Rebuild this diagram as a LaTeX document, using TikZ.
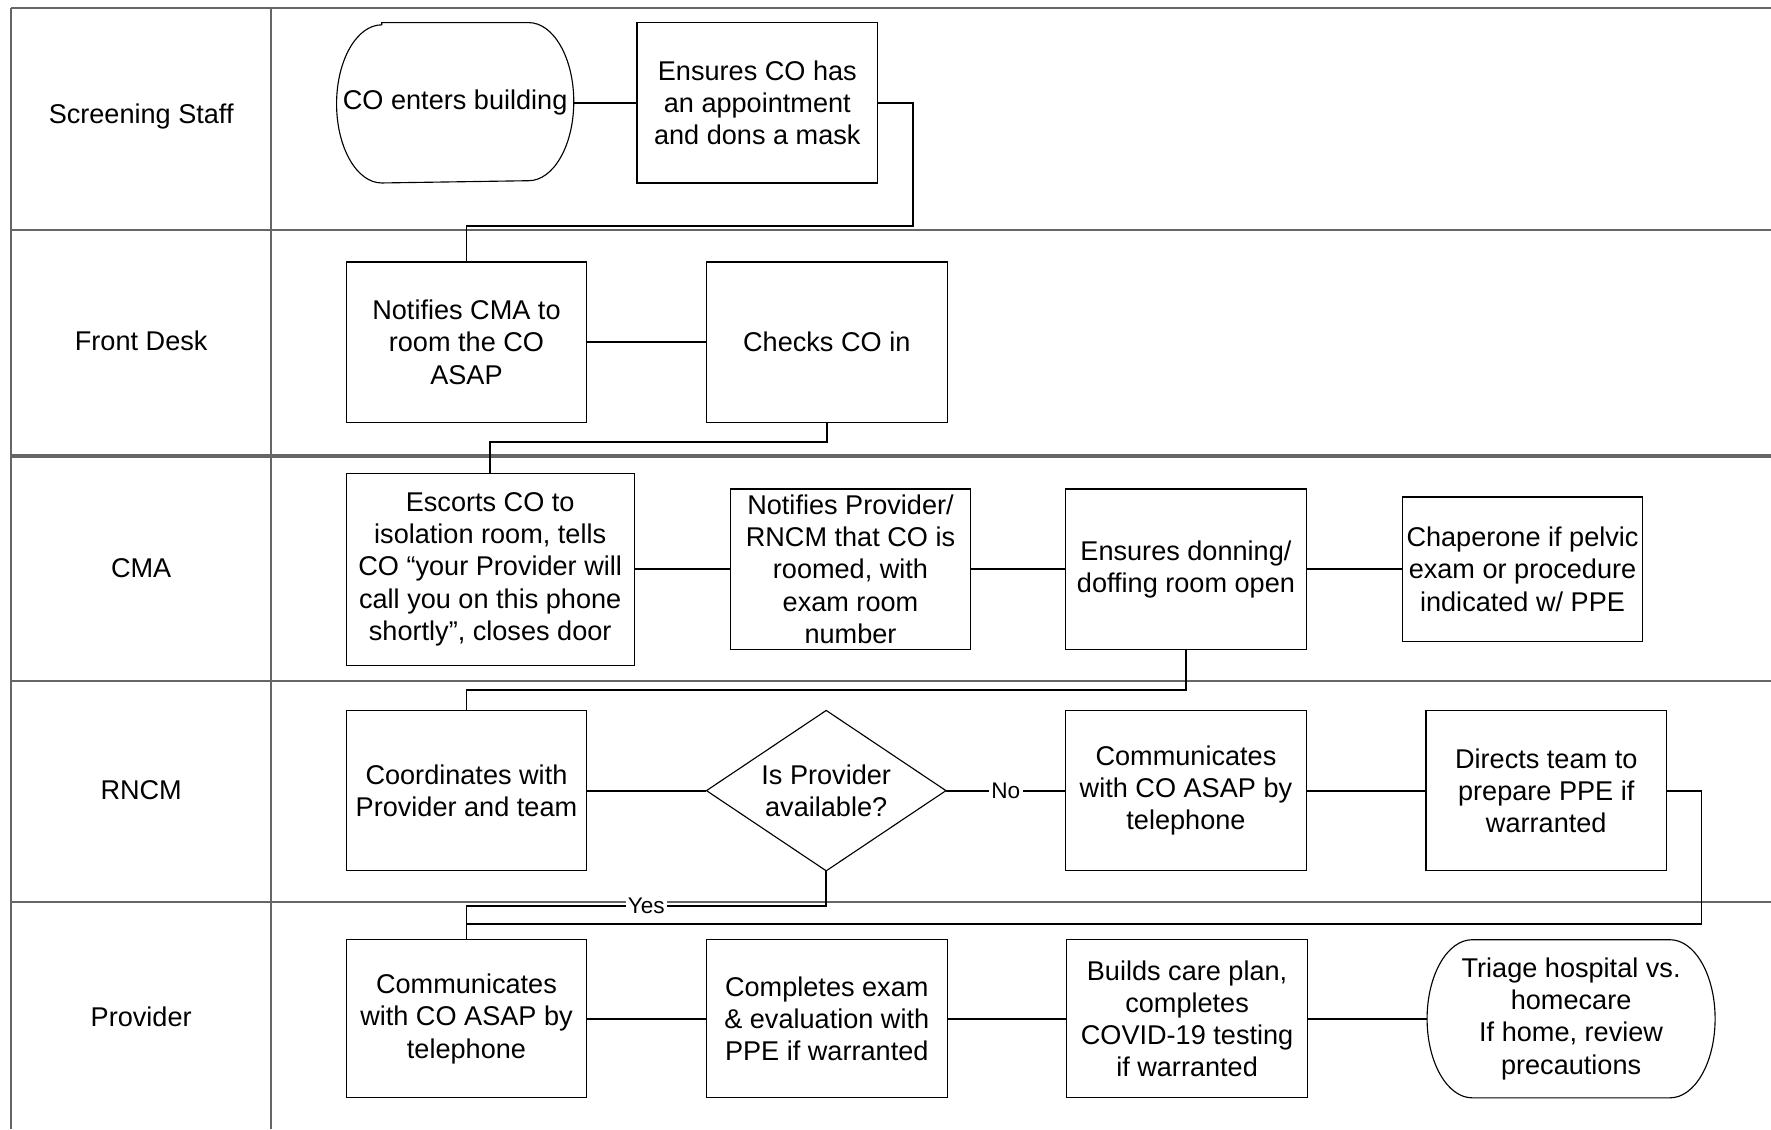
\documentclass[tikz,border=0pt]{standalone}
\usepackage{fontspec}
\setmainfont{Liberation Sans}
\usetikzlibrary{positioning,shapes.geometric}

\tikzset{
    task/.style={draw,align=center,minimum width=106.5pt,minimum height=71pt,inner sep=1pt,outer sep=0pt,line width=0.5pt},
    terminal/.style={align=center,minimum width=105pt,minimum height=71pt,inner sep=1pt,outer sep=0pt},
    decision/.style={draw,diamond,aspect=1.5,align=center,minimum width=106pt,minimum height=71pt,inner sep=0pt,outer sep=0pt,line width=0.5pt},
    lanelabel/.style={align=center},
    link/.style={line width=0.8pt},
    laneline/.style={draw=black!60,line width=0.9pt},
    tag/.style={fill=white,inner sep=1pt,font=\fontsize{10}{12}\selectfont}
}

\begin{document}
\begin{tikzpicture}[x=0.5pt,y=-0.5pt,font=\fontsize{12}{14.3}\selectfont]
    \useasboundingbox (0,0) rectangle (1568,1000);

    % swimlanes
    \foreach \ypos in {7,204,402.5,405,603,799}
        \draw[laneline] (10,\ypos) -- (1568,\ypos);
    \draw[laneline] (10,7) -- (10,1000);
    \draw[laneline] (240,7) -- (240,1000);
    \foreach \lbl/\ypos [count=\i] in {Screening Staff/103,Front Desk/302,CMA/503,RNCM/700,Provider/900}
        \node[lanelabel] (lane\i) at (125,\ypos) {\lbl};

    % screening staff
    \node[terminal] (start) at (403,91) {CO enters building};
    \node[task,right=28pt of start] (ensure) {Ensures CO has\\an appointment\\and dons a mask};

    % front desk
    \node[task] (roomco) at (413,303) {Notifies CMA to\\room the CO\\ASAP};
    \node[task,right=53pt of roomco] (checkin) {Checks CO in};

    % CMA
    \node[task,minimum width=127.5pt,minimum height=85pt] (escort) at (434,504) {Escorts CO to\\isolation room, tells\\CO “your Provider will\\call you on this phone\\shortly”, closes door};
    \node[task,right=42.5pt of escort] (notify) {Notifies Provider/\\RNCM that CO is\\roomed, with\\exam room\\number};
    \node[task,right=42pt of notify] (donning) {Ensures donning/\\doffing room open};
    \node[task,minimum height=64pt,right=42.5pt of donning] (chaperone) {Chaperone if pelvic\\exam or procedure\\indicated w/ PPE};

    % RNCM
    \node[task] (coord) at (413,700) {Coordinates with\\Provider and team};
    \node[decision,right=53pt of coord] (avail) {Is Provider\\available?};
    \node[task,right=53pt of avail] (callrn) {Communicates\\with CO ASAP by\\telephone};
    \node[task,right=53pt of callrn] (directs) {Directs team to\\prepare PPE if\\warranted};

    % provider
    \node[task,minimum height=70pt] (callpr) at (413,902) {Communicates\\with CO ASAP by\\telephone};
    \node[task,minimum height=70pt,right=53pt of callpr] (exam) {Completes exam\\\& evaluation with\\PPE if warranted};
    \node[task,minimum height=70pt,right=53pt of exam] (plan) {Builds care plan,\\completes\\COVID-19 testing\\if warranted};
    \node[terminal,minimum width=127.5pt,minimum height=70pt,right=53pt of plan] (triage) {Triage hospital vs.\\homecare\\If home, review\\precautions};

    % terminator outlines
    \foreach \n in {start,triage}
        \draw[line width=0.5pt] ([xshift=20pt]\n.north west) -- ([xshift=-20pt]\n.north east)
            arc[start angle=90,end angle=-90,x radius=20pt,y radius=35pt]
            -- ([xshift=20pt]\n.south west)
            arc[start angle=270,end angle=90,x radius=20pt,y radius=35pt] -- cycle;

    \draw[link] (start) -- (ensure);
    \draw[link] (ensure.east) -- ++(31,0) |- ([yshift=16pt]roomco.north) -- (roomco.north);
    \draw[link] (roomco) -- (checkin);
    \draw[link] (checkin.south) |- ([yshift=14pt]escort.north) -- (escort.north);
    \draw[link] (escort) -- (notify);
    \draw[link] (notify) -- (donning);
    \draw[link] (donning) -- (chaperone);
    \draw[link] (donning.south) |- ([yshift=9pt]coord.north) -- (coord.north);
    \draw[link] (coord) -- (avail);
    \draw[link] (avail) -- node[tag] {No} (callrn);
    \draw[link] (callrn) -- (directs);
    \draw[link] (avail.south) |- node[tag,pos=0.75] {Yes} ([yshift=15pt]callpr.north) -- (callpr.north);
    \draw[link] (directs.east) -- ++(31,0) |- ([yshift=7pt]callpr.north);
    \draw[link] (callpr) -- (exam);
    \draw[link] (exam) -- (plan);
    \draw[link] (plan) -- (triage);
\end{tikzpicture}
\end{document}
